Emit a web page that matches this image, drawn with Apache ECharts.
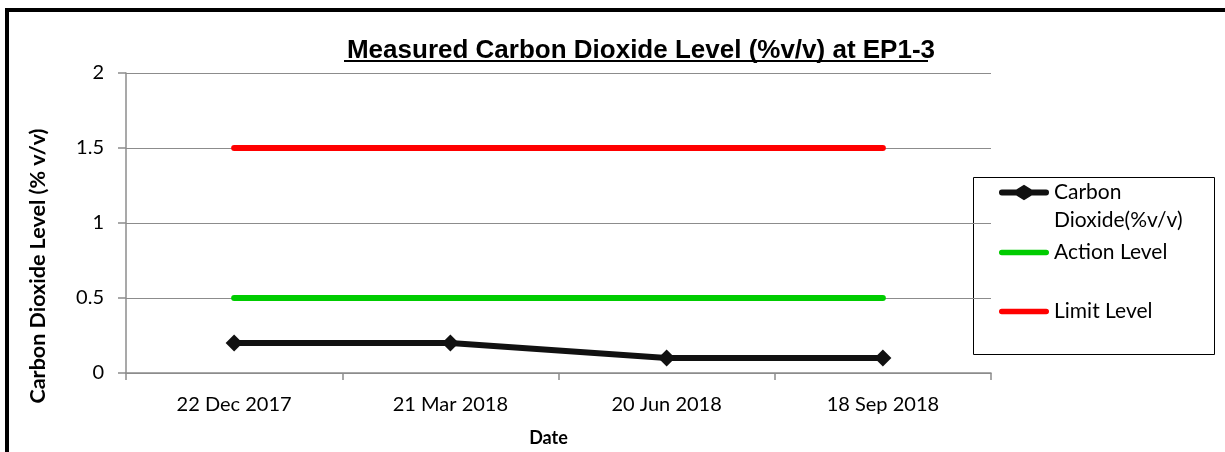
<!DOCTYPE html>
<html><head><meta charset="utf-8">
<script src="https://cdn.jsdelivr.net/npm/echarts@6/dist/echarts.min.js"></script>
<style>html,body{margin:0;padding:0;background:#fff}#c{width:1225px;height:452px}</style>
</head><body><div id="c"></div>
<script>
const categories = ['22 Dec 2017', '21 Mar 2018', '20 Jun 2018', '18 Sep 2018'];
const co2Values = [0.2, 0.2, 0.1, 0.1];
const actionLevel = [0.5, 0.5, 0.5, 0.5];
const limitLevel = [1.5, 1.5, 1.5, 1.5];
const yTicks = { min: 0, max: 2, interval: 0.5 };

const labelFont = "Lato, 'Open Sans', sans-serif";
const chart = echarts.init(document.getElementById('c'));
const barIcon = 'path://M3,0 L51,0 A3,3 0 0 1 51,6 L3,6 A3,3 0 0 1 3,0 Z';
const diamondIcon = 'path://M3,5 L18,5 L26,0 L34,5 L49,5 A3,3 0 0 1 49,11 L34,11 L26,16 L18,11 L3,11 A3,3 0 0 1 3,5 Z';
const lineLegend = (name, top, icon, h, fmt) => ({
  left: 994, top: top, orient: 'vertical', itemWidth: 50, itemHeight: h, itemGap: 0,
  data: [{ name: name, icon: icon }], selectedMode: false, formatter: fmt || '{name}',
  textStyle: { fontFamily: labelFont, fontSize: 21, color: '#000', lineHeight: 27 }
});
chart.setOption({
  animation: false,
  title: {
    text: 'Measured Carbon Dioxide Level (%v/v) at EP1-3',
    left: 636, top: 33, textAlign: 'center',
    textStyle: { fontFamily: "'Liberation Sans', Arial, sans-serif", fontWeight: 'bold', fontSize: 26, color: '#000' }
  },
  grid: { left: 126, right: 234, top: 73, bottom: 79 },
  xAxis: {
    type: 'category', data: categories, boundaryGap: true,
    axisLine: { lineStyle: { color: '#8c8c8c', width: 1.5 } },
    axisTick: { show: true, length: 7, lineStyle: { color: '#8c8c8c', width: 1.5 } },
    axisLabel: { fontFamily: labelFont, fontSize: 20, color: '#000', margin: 22 },
    name: 'Date', nameLocation: 'middle', nameGap: 56,
    nameTextStyle: { fontFamily: labelFont, fontWeight: 'bold', fontSize: 18, color: '#000', padding: [0, 20, 0, 0] }
  },
  yAxis: {
    type: 'value', min: yTicks.min, max: yTicks.max, interval: yTicks.interval,
    axisLine: { show: true, lineStyle: { color: '#8c8c8c', width: 1.5 } },
    axisTick: { show: true, length: 8, inside: false, lineStyle: { color: '#8c8c8c', width: 1.5 } },
    splitLine: { lineStyle: { color: '#8c8c8c', width: 1.2 } },
    axisLabel: { fontFamily: labelFont, fontSize: 20, color: '#000', margin: 22 }
  },
  legend: [
    lineLegend('Carbon Dioxide(%v/v)', 174, diamondIcon, 16, 'Carbon'),
    lineLegend('Action Level', 234, barIcon, 6),
    lineLegend('Limit Level', 293, barIcon, 6)
  ],
  graphic: [
    { type: 'rect', shape: { x: 5, y: 8, width: 1230, height: 4 }, style: { fill: '#000' } },
    { type: 'rect', shape: { x: 5, y: 8, width: 4, height: 460 }, style: { fill: '#000' } },
    { type: 'rect', shape: { x: 344, y: 60, width: 584, height: 2 }, style: { fill: '#000' } },
    { type: 'rect', shape: { x: 973.5, y: 177.5, width: 241, height: 177 }, style: { fill: 'none', stroke: '#000', lineWidth: 1 }, z: -1 },
    { type: 'text', x: 1054, y: 220,
      style: { text: 'Dioxide(%v/v)', fontFamily: labelFont, fontSize: 21, fill: '#000', align: 'left', verticalAlign: 'middle' } },
    { type: 'text', x: 38, y: 266, rotation: Math.PI / 2,
      style: { text: 'Carbon Dioxide Level (% v/v)', fontFamily: labelFont, fontWeight: 'bold', fontSize: 21.5, fill: '#000',
        align: 'center', verticalAlign: 'middle' } }
  ],
  series: [
    { name: 'Action Level', type: 'line', data: actionLevel, symbol: 'none', color: '#00cc00',
      lineStyle: { width: 6, color: '#00cc00', cap: 'round' }, z: 2 },
    { name: 'Limit Level', type: 'line', data: limitLevel, symbol: 'none', color: '#ff0000',
      lineStyle: { width: 6, color: '#ff0000', cap: 'round' }, z: 2 },
    { name: 'Carbon Dioxide(%v/v)', type: 'line', data: co2Values, symbol: 'diamond', symbolSize: 17, color: '#111',
      itemStyle: { color: '#111' }, lineStyle: { width: 6, color: '#111' }, z: 3 }
  ]
});
</script></body></html>
